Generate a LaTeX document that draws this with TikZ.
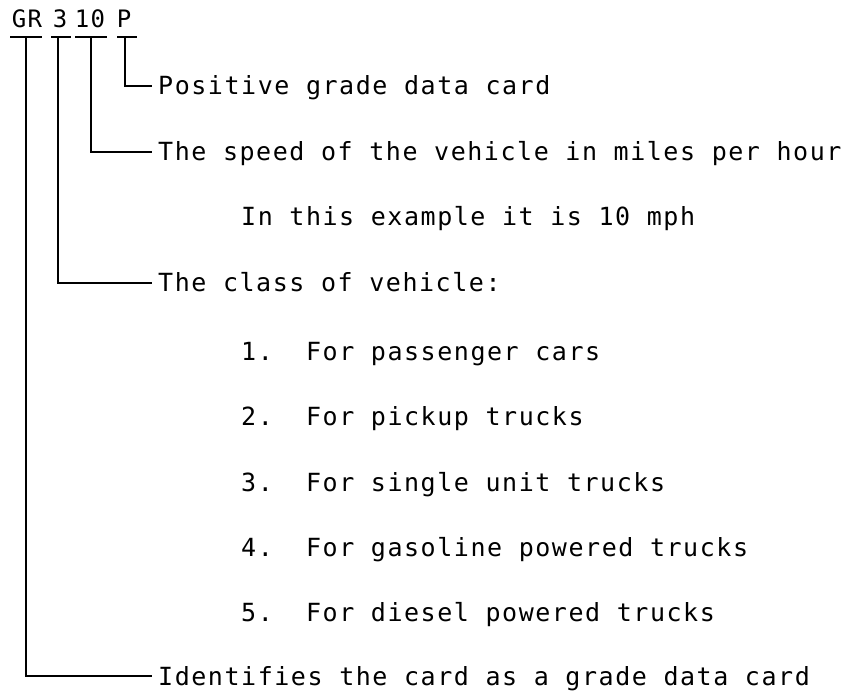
\documentclass[tikz,border=0pt]{standalone}
\usepackage{fontspec}
\newfontfamily\tw[LetterSpace=6.2]{DejaVu Sans Mono}
\newcommand\lblfont{\tw\fontsize{25}{30}\selectfont\frenchspacing\spaceskip=16.6pt\relax}
\newcommand\hdrfont{\tw\fontsize{24}{28}\selectfont}
\tikzset{
  lbl/.style={anchor=west, inner sep=0pt, text height=18pt, text depth=0pt, font=\lblfont},
  hdr/.style={anchor=base, inner sep=0pt, font=\hdrfont},
  wire/.style={line width=2.5pt},
}
\begin{document}
\begin{tikzpicture}[x=1pt,y=-1pt]
\useasboundingbox (0,0) rectangle (851,692);
% header code
\node[hdr] (gr) at (27,28) {GR};
\node[hdr] (c3) at (60,28) {3};
\node[hdr] (c10) at (90,28) {10};
\node[hdr] (cp) at (124,28) {P};
\coordinate (grb) at (26,37);
\coordinate (c3b) at (58,37);
\coordinate (c10b) at (91,37);
\coordinate (cpb) at (125,37);
\draw[wire] (10,37) -- (42,37);
\draw[wire] (51,37) -- (71,37);
\draw[wire] (75,37) -- (107,37);
\draw[wire] (117,37) -- (137,37);
% labels
\node[lbl] (tp) at (158,86) {Positive grade data card};
\node[lbl] (ts) at (158,152) {The speed of the vehicle in miles per hour};
\node[lbl] (tex) at (241,217) {In this example it is 10 mph};
\node[lbl] (tc) at (158,283) {The class of vehicle:};
\node[lbl] (l1) at (241,351) {1.\ \ For passenger cars};
\node[lbl] (l2) at (241,416) {2.\ \ For pickup trucks};
\node[lbl] (l3) at (241,482) {3.\ \ For single unit trucks};
\node[lbl] (l4) at (241,547) {4.\ \ For gasoline powered trucks};
\node[lbl] (l5) at (241,612) {5.\ \ For diesel powered trucks};
\node[lbl] (tid) at (158,676) {Identifies the card as a grade data card};
% connectors
\draw[wire] (cpb) |- ([xshift=-6pt]tp.west);
\draw[wire] (c10b) |- ([xshift=-6pt]ts.west);
\draw[wire] (c3b) |- ([xshift=-6pt]tc.west);
\draw[wire] (grb) |- ([xshift=-6pt]tid.west);
\end{tikzpicture}
\end{document}
